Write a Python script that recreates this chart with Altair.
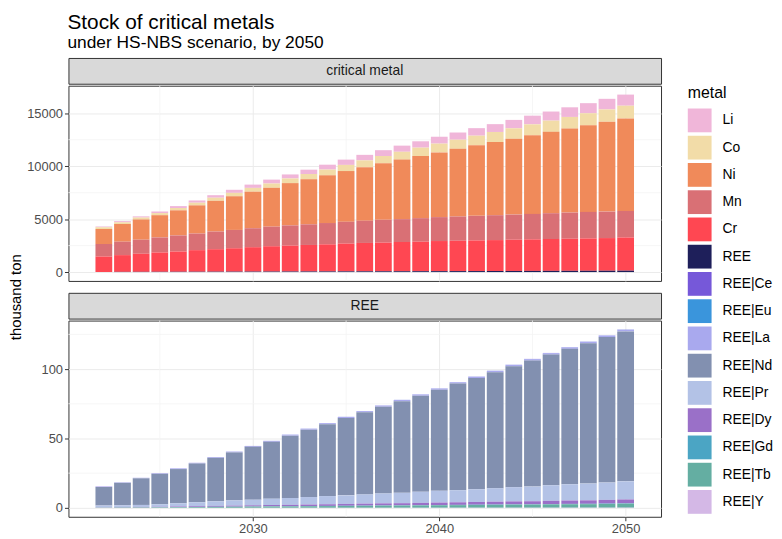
import altair as alt
import pandas as pd

FONT = "Liberation Sans"

years = list(range(2022, 2051))

# top panel (thousand ton)
li = [90, 110, 110, 150, 180, 210, 240, 290, 310, 370, 380, 410, 460, 500, 520,
      550, 580, 600, 650, 680, 710, 740, 790, 820, 860, 910, 950, 1000, 1050]
co = [150, 160, 180, 200, 220, 250, 290, 320, 360, 400, 440, 490, 540, 580, 640,
      680, 740, 790, 830, 860, 900, 950, 990, 1020, 1060, 1100, 1140, 1160, 1200]
ni = [1420, 1670, 1910, 2100, 2370, 2660, 2900, 3180, 3450, 3670, 3990, 4260, 4510, 4790, 5060,
      5340, 5620, 5870, 6110, 6390, 6670, 6910, 7160, 7440, 7680, 7930, 8180, 8490, 8740]
mn = [1170, 1270, 1330, 1420, 1520, 1570, 1670, 1730, 1790, 1850, 1910, 1950, 2010, 2060, 2100,
      2160, 2160, 2220, 2260, 2290, 2320, 2350, 2370, 2400, 2440, 2470, 2500, 2500, 2500]
cr = [1465, 1582, 1708, 1825, 1911, 2037, 2123, 2209, 2305, 2392, 2447, 2503, 2559, 2624, 2680,
      2706, 2762, 2788, 2844, 2869, 2895, 2921, 2957, 2983, 3008, 3034, 3060, 3086, 3141]
ree_total = [15.3, 18.4, 21.7, 25.0, 28.5, 32.5, 36.6, 40.6, 44.6, 48.3, 52.8, 57.1, 61.1, 65.6, 69.8,
             73.8, 77.8, 81.8, 86.1, 90.6, 94.6, 98.8, 103.1, 107.3, 111.6, 115.8, 119.8, 124.3, 128.5]

# REE panel (thousand ton)
ree_ce = [0.02, 0.02, 0.02, 0.03, 0.03, 0.03, 0.03, 0.04, 0.04, 0.04, 0.05, 0.05, 0.05, 0.05, 0.06,
          0.06, 0.06, 0.06, 0.07, 0.07, 0.07, 0.07, 0.08, 0.08, 0.08, 0.08, 0.09, 0.09, 0.1]
ree_eu = [0.01, 0.01, 0.01, 0.01, 0.02, 0.02, 0.02, 0.02, 0.02, 0.02, 0.03, 0.03, 0.03, 0.03, 0.03,
          0.03, 0.04, 0.04, 0.04, 0.04, 0.04, 0.04, 0.05, 0.05, 0.05, 0.05, 0.05, 0.05, 0.06]
ree_la = [0.3, 0.35, 0.4, 0.45, 0.5, 0.5, 0.55, 0.6, 0.6, 0.65, 0.7, 0.7, 0.75, 0.8, 0.8,
          0.85, 0.85, 0.9, 0.9, 0.95, 0.95, 1.0, 1.0, 1.05, 1.05, 1.1, 1.1, 1.15, 1.2]
ree_nd = [13.32, 16.12, 19.17, 21.91, 24.65, 27.95, 31.3, 34.54, 38.04, 40.99, 44.92, 48.52, 51.77, 55.72, 59.21,
          62.46, 66.05, 69.2, 72.79, 76.84, 80.14, 83.49, 87.07, 90.82, 94.12, 97.57, 101.06, 104.81, 108.04]
ree_pr = [1.2, 1.35, 1.43, 1.82, 2.31, 2.8, 3.28, 3.77, 4.05, 4.54, 4.92, 5.41, 5.89, 6.18, 6.66,
          7.15, 7.43, 8.02, 8.5, 8.69, 9.17, 9.76, 10.24, 10.53, 11.21, 11.7, 12.08, 12.47, 13.04]
ree_dy = [0.2, 0.25, 0.3, 0.35, 0.45, 0.55, 0.65, 0.75, 0.85, 0.95, 1.0, 1.1, 1.2, 1.3, 1.4,
          1.5, 1.55, 1.65, 1.75, 1.85, 1.95, 2.05, 2.15, 2.2, 2.35, 2.45, 2.5, 2.65, 2.8]
ree_gd = [0.03, 0.03, 0.04, 0.05, 0.05, 0.06, 0.07, 0.08, 0.09, 0.1, 0.11, 0.12, 0.13, 0.14, 0.15,
          0.16, 0.17, 0.18, 0.19, 0.2, 0.21, 0.22, 0.23, 0.24, 0.25, 0.26, 0.27, 0.28, 0.3]
ree_tb = [0.2, 0.25, 0.3, 0.35, 0.45, 0.55, 0.65, 0.75, 0.85, 0.95, 1.0, 1.1, 1.2, 1.3, 1.4,
          1.5, 1.55, 1.65, 1.75, 1.85, 1.95, 2.05, 2.15, 2.2, 2.35, 2.45, 2.5, 2.65, 2.8]
ree_y = [0.02, 0.02, 0.03, 0.03, 0.04, 0.04, 0.05, 0.05, 0.06, 0.06, 0.07, 0.07, 0.08, 0.08, 0.09,
         0.09, 0.1, 0.1, 0.11, 0.11, 0.12, 0.12, 0.13, 0.13, 0.14, 0.14, 0.15, 0.15, 0.16]

metals = ["Li", "Co", "Ni", "Mn", "Cr", "REE", "REE|Ce", "REE|Eu", "REE|La", "REE|Nd",
          "REE|Pr", "REE|Dy", "REE|Gd", "REE|Tb", "REE|Y"]
colors = ["#F0B6D9", "#F2DCA8", "#F08A5A", "#D97075", "#FF4752", "#1E1F5A", "#7658D9",
          "#3A95DC", "#A9A9EE", "#8290B0", "#B3C2E6", "#9A70C8", "#4BA5C4", "#64AEA2", "#D4B8E6"]

panel_labels = ["critical metal", "REE"]
y_title = "thousand ton"
x_ticks = [2030, 2040, 2050]
x_minor = [2025, 2035, 2045]
top_ticks = [0, 5000, 10000, 15000]
top_minor = [2500, 7500, 12500]
ree_ticks = [0, 50, 100]
ree_minor = [25, 75, 125]

top_series = {"Li": li, "Co": co, "Ni": ni, "Mn": mn, "Cr": cr, "REE": ree_total}
ree_series = {"REE|Ce": ree_ce, "REE|Eu": ree_eu, "REE|La": ree_la, "REE|Nd": ree_nd,
              "REE|Pr": ree_pr, "REE|Dy": ree_dy, "REE|Gd": ree_gd, "REE|Tb": ree_tb, "REE|Y": ree_y}


def to_df(series):
    rows = []
    for m, vals in series.items():
        for yr, v in zip(years, vals):
            rows.append({"year": yr, "metal": m, "value": v, "order": metals.index(m)})
    return pd.DataFrame(rows)


df_top = to_df(top_series)
df_ree = to_df(ree_series)

W = 598
H1 = 197
H2 = 198
SH = 26
GAP = 10
GRID = "#EBEBEB"
MINOR = "#F4F4F4"
BORDER = "#333333"

x_scale = alt.Scale(domain=[2020.1, 2051.9], nice=False, zero=False)

legend = alt.Legend(
    title="metal", orient="none", legendX=686, legendY=27,
    symbolType="square", symbolSize=576, symbolStrokeWidth=0, symbolOpacity=1,
    labelFontSize=14, titleFontSize=16, titleFontWeight="normal",
    labelColor="#000000", titleColor="#000000", labelFont=FONT, titleFont=FONT,
    rowPadding=3.5, titlePadding=8, labelOffset=11, padding=0,
)
color = alt.Color("metal:N", scale=alt.Scale(domain=metals, range=colors), legend=legend)


def panel(df, ydom, yticks, yminor, height, show_x):
    y_scale = alt.Scale(domain=ydom, nice=False, zero=False)
    if show_x:
        xaxis = alt.Axis(values=x_ticks, format="d", title=None, grid=True, gridColor=GRID,
                         labelFontSize=13, labelColor="#4D4D4D", labelFont=FONT,
                         tickSize=4, tickColor=BORDER, labelPadding=2, domain=False)
    else:
        xaxis = alt.Axis(values=x_ticks, labels=False, ticks=False, domain=False, title=None,
                         grid=True, gridColor=GRID)
    yaxis = alt.Axis(values=yticks, format="d", grid=True, gridColor=GRID, title=None,
                     labelFontSize=13, labelColor="#4D4D4D", labelFont=FONT,
                     tickSize=4, tickColor=BORDER, labelPadding=2, domain=False)

    hminor = alt.Chart(pd.DataFrame({"v": yminor})).mark_rule(color=MINOR, strokeWidth=0.8).encode(
        y=alt.Y("v:Q", scale=y_scale, axis=yaxis))
    vminor = alt.Chart(pd.DataFrame({"v": x_minor})).mark_rule(color=MINOR, strokeWidth=0.8).encode(
        x=alt.X("v:Q", scale=x_scale, axis=xaxis))
    bars = alt.Chart(df).transform_stack(
        stack="value", groupby=["year"], as_=["y0", "y1"],
        sort=[alt.SortField("order", order="descending")],
    ).transform_calculate(
        x0="datum.year - 0.45", x1="datum.year + 0.45"
    ).mark_bar(strokeWidth=0).encode(
        x=alt.X("x0:Q", scale=x_scale, axis=xaxis),
        x2="x1:Q",
        y=alt.Y("y0:Q", scale=y_scale, axis=yaxis),
        y2="y1:Q",
        color=color,
    )
    return alt.layer(hminor, vminor, bars).properties(
        width=W, height=height,
        view=alt.ViewBackground(fill="white", stroke=BORDER, strokeWidth=1))


def strip(label):
    return alt.Chart(pd.DataFrame({"label": [label]})).mark_text(
        fontSize=14, color="#1A1A1A", font=FONT, baseline="middle", align="center"
    ).encode(text="label:N", x=alt.value(W / 2), y=alt.value(SH / 2)).properties(
        width=W, height=SH,
        view=alt.ViewBackground(fill="#D9D9D9", stroke=BORDER, strokeWidth=1))


TOTAL_H = SH + H1 + GAP + SH + H2
ytitle_chart = alt.Chart(pd.DataFrame({"label": [y_title]})).mark_text(
    fontSize=15, color="#000000", font=FONT, angle=270, baseline="middle", align="center"
).encode(text="label:N", x=alt.value(8), y=alt.value((SH + TOTAL_H) / 2)).properties(
    width=18, height=TOTAL_H,
    view=alt.ViewBackground(fill=None, stroke=None, strokeWidth=0))

p1 = panel(df_top, [-838, 17598], top_ticks, top_minor, H1, False)
p2 = panel(df_ree, [-6.425, 134.925], ree_ticks, ree_minor, H2, True)

panels = alt.vconcat(
    alt.vconcat(strip(panel_labels[0]), p1, spacing=0),
    alt.vconcat(strip(panel_labels[1]), p2, spacing=0),
    spacing=GAP,
)

chart = alt.hconcat(ytitle_chart, panels, spacing=0).properties(
    title=alt.Title("Stock of critical metals", subtitle="under HS-NBS scenario, by 2050",
                    anchor="start", fontSize=21, subtitleFontSize=17.5, fontWeight="normal",
                    color="#000000", subtitleColor="#000000", font=FONT, subtitleFont=FONT,
                    subtitlePadding=1, offset=6, dx=60),
    padding={"left": 0, "top": 2, "right": 0, "bottom": 0},
    background="white",
).configure_view(stroke=BORDER)

chart.save("out.html", embed_options={"renderer": "svg", "actions": False})
